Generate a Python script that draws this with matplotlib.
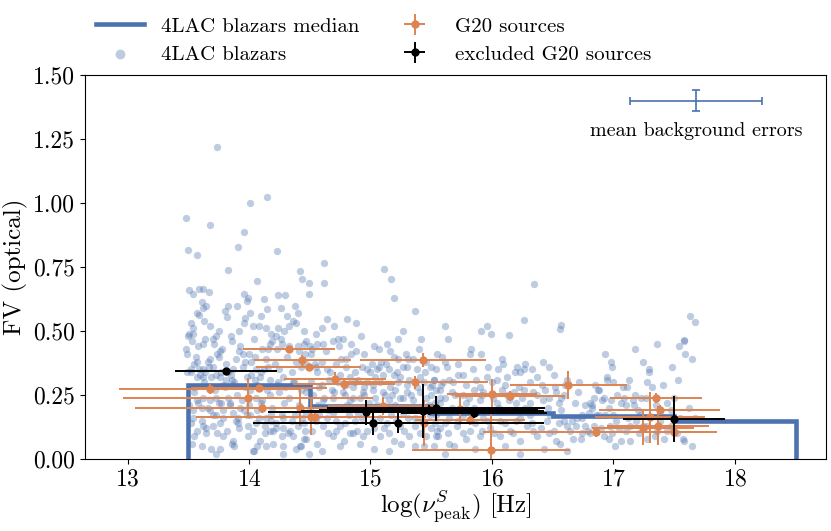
import matplotlib
matplotlib.use("Agg")
import matplotlib.pyplot as plt
import numpy as np

plt.rcParams['font.family'] = ['cmr10', 'DejaVu Serif']
plt.rcParams['mathtext.fontset'] = 'cm'
plt.rcParams['axes.formatter.use_mathtext'] = True

# ---------------- data ----------------
# 4LAC blazars: sparse / outlying points read individually
blazar_x = [
    13.74, 14.15, 14.01, 13.48, 13.68, 13.96, 13.91, 13.50, 13.57, 14.23, 13.83, 14.62, 14.42, 14.44,
    14.49, 14.62, 14.07, 15.11, 15.17, 15.19, 15.37, 13.51, 13.54, 13.59, 13.62, 13.67, 13.96, 13.99,
    13.98, 14.12, 14.24, 14.30, 14.49, 13.61, 13.65, 13.62, 13.83, 13.90, 14.15, 14.26, 14.38, 13.59,
    13.82, 14.31, 14.64, 14.81,
    16.35, 15.61, 15.64, 15.91, 15.96, 15.99, 16.14, 16.26, 16.57, 16.56, 17.63, 17.67, 17.58,
    13.63, 14.01, 14.36,
    13.54, 13.51, 13.54, 13.50, 13.70, 13.73, 13.85, 13.92, 13.96, 14.03, 14.08, 14.14, 14.18, 14.22,
    14.27, 14.29, 14.39, 14.45, 13.48, 13.49, 13.62, 13.76, 13.75, 13.68, 13.70, 13.57, 13.55, 13.59,
    13.52, 13.49, 13.62, 13.64, 13.73, 13.83, 13.87, 13.92, 13.95, 14.00, 14.02, 14.06, 14.12, 14.16,
    14.17, 14.23, 14.40, 14.45, 13.57, 13.62, 13.69, 13.76, 13.81, 13.86, 13.87, 13.79, 13.98, 14.05,
    14.09, 14.17, 14.24, 14.28, 14.36, 13.55, 13.57, 13.62, 13.68, 13.73, 13.77, 13.83, 13.84, 13.90,
    13.94, 14.01, 14.06, 14.10, 14.17, 14.25, 14.33, 14.43, 13.54, 13.61, 13.68, 13.73, 13.79, 13.87,
    13.91, 13.96, 14.01, 14.07, 14.14, 14.18, 14.22, 14.28, 14.38, 13.52, 13.62, 13.70, 13.76, 13.91,
    13.99, 14.06, 14.13, 14.17, 14.28, 14.34, 14.40, 13.55, 13.65, 13.79, 13.87, 13.99, 14.09, 14.20,
    14.27, 14.36, 14.45, 13.61, 13.76, 13.88, 14.07, 14.14, 14.28, 14.42, 14.47, 13.73, 14.03, 14.28,
    14.60, 14.69, 14.73, 14.77, 14.84, 14.61, 14.56, 14.50, 15.23, 14.84, 14.80, 14.76, 14.60, 14.51,
    14.54, 14.47, 15.19, 15.23, 15.31, 15.35, 15.13, 15.01, 14.97, 15.05, 15.09, 15.27, 15.46, 15.50,
    14.56, 14.67, 14.75, 14.83, 14.90, 14.97, 15.04, 15.10, 15.19, 15.24, 15.32, 15.41, 15.52, 14.58,
    14.68, 14.77, 14.86, 14.94, 15.02, 15.12, 15.20, 15.30, 15.49, 14.47, 14.61, 14.69, 14.83, 14.91,
    14.99, 15.15, 15.24, 15.35, 15.46, 15.53, 14.47, 14.58, 14.69, 14.82, 14.90, 15.08, 15.17, 15.27,
    15.37, 15.49, 14.45, 14.61, 14.75, 14.89, 14.97, 15.11, 15.24, 15.37, 15.50, 14.69, 14.78, 14.86,
    14.94, 15.08, 15.19, 15.32, 15.46, 15.56, 14.43, 14.49, 14.60, 15.15, 15.37, 15.52,
    15.59, 15.61, 15.83, 15.91, 15.82, 16.08, 16.05, 16.19, 16.23, 16.27, 16.42, 16.26, 15.72, 15.76,
    15.52, 15.60, 15.65, 15.87, 15.96, 16.04, 16.12, 16.37, 16.51, 16.62, 15.54, 15.67, 15.76, 15.85,
    15.93, 16.08, 16.18, 16.26, 16.34, 16.44, 16.53, 16.59, 15.57, 15.79, 15.90, 16.04, 16.14, 16.20,
    16.31, 16.42, 16.55, 15.54, 15.65, 15.76, 15.93, 16.07, 16.23, 16.31, 16.48, 16.59, 15.57, 15.71,
    15.82, 15.98, 16.15, 16.29, 16.40, 16.51, 16.62, 15.54, 15.65, 15.79, 15.90, 16.07, 16.23, 16.37,
    16.53, 16.56, 15.61, 16.23, 16.62,
    17.58, 17.54, 17.36, 17.18, 17.59, 17.65, 16.98, 16.99, 16.93, 17.24, 17.29, 17.29, 17.28, 17.48,
    17.53, 16.95, 16.95, 16.87, 16.88, 17.11, 17.08, 16.71, 16.84, 16.92, 16.91, 16.81, 16.82, 16.82,
    17.03, 17.09, 17.18, 17.23, 17.27, 16.96, 17.10, 17.17, 17.20, 17.44, 17.47, 17.62, 17.67, 17.00,
    16.93, 16.88, 16.80, 16.74, 16.66, 16.74, 16.69, 16.77, 16.84, 16.90, 16.97, 17.05, 17.14, 17.19,
    17.24, 17.28, 17.34, 17.44, 17.47, 16.74, 16.81, 16.64, 16.92, 16.96, 17.06, 17.01, 17.14, 17.28,
    17.42, 17.57, 17.58, 17.65, 16.73, 16.67,
]
blazar_y = [
    1.219, 1.023, 0.999, 0.943, 0.914, 0.888, 0.829, 0.818, 0.797, 0.814, 0.738, 0.766, 0.733, 0.702,
    0.688, 0.689, 0.695, 0.743, 0.703, 0.630, 0.578, 0.659, 0.643, 0.665, 0.664, 0.651, 0.645, 0.628,
    0.617, 0.624, 0.641, 0.641, 0.645, 0.612, 0.596, 0.590, 0.598, 0.598, 0.585, 0.591, 0.596, 0.561,
    0.553, 0.559, 0.546, 0.546,
    0.684, 0.518, 0.470, 0.499, 0.518, 0.488, 0.483, 0.542, 0.523, 0.508, 0.557, 0.536, 0.464,
    0.54, 0.57, 0.54,
    0.51, 0.49, 0.49, 0.48, 0.47, 0.48, 0.48, 0.50, 0.53, 0.52, 0.52, 0.51, 0.49, 0.48,
    0.45, 0.50, 0.53, 0.50, 0.43, 0.41, 0.45, 0.42, 0.40, 0.39, 0.36, 0.38, 0.37, 0.35,
    0.34, 0.34, 0.35, 0.34, 0.33, 0.34, 0.35, 0.42, 0.41, 0.41, 0.38, 0.35, 0.35, 0.43,
    0.45, 0.43, 0.44, 0.45, 0.32, 0.32, 0.32, 0.32, 0.31, 0.31, 0.29, 0.29, 0.32, 0.31,
    0.32, 0.31, 0.30, 0.32, 0.30, 0.26, 0.23, 0.24, 0.23, 0.24, 0.22, 0.24, 0.22, 0.25,
    0.23, 0.27, 0.24, 0.22, 0.25, 0.26, 0.24, 0.27, 0.19, 0.20, 0.19, 0.17, 0.19, 0.18,
    0.16, 0.19, 0.17, 0.19, 0.16, 0.17, 0.14, 0.16, 0.17, 0.14, 0.13, 0.13, 0.14, 0.14,
    0.13, 0.14, 0.13, 0.11, 0.12, 0.11, 0.13, 0.09, 0.10, 0.09, 0.07, 0.09, 0.07, 0.11,
    0.09, 0.09, 0.08, 0.05, 0.04, 0.05, 0.05, 0.05, 0.05, 0.05, 0.08, 0.02, 0.03, 0.02,
    0.51, 0.46, 0.47, 0.47, 0.45, 0.45, 0.45, 0.44, 0.47, 0.41, 0.39, 0.39, 0.38, 0.41,
    0.37, 0.37, 0.40, 0.39, 0.39, 0.39, 0.37, 0.37, 0.35, 0.35, 0.38, 0.36, 0.38, 0.36,
    0.34, 0.34, 0.33, 0.32, 0.31, 0.30, 0.32, 0.33, 0.33, 0.32, 0.31, 0.32, 0.31, 0.28,
    0.27, 0.26, 0.28, 0.26, 0.27, 0.25, 0.27, 0.26, 0.28, 0.26, 0.23, 0.24, 0.23, 0.24,
    0.22, 0.23, 0.24, 0.23, 0.24, 0.22, 0.18, 0.17, 0.18, 0.17, 0.18, 0.16, 0.17, 0.18,
    0.16, 0.17, 0.14, 0.13, 0.13, 0.11, 0.11, 0.12, 0.13, 0.13, 0.12, 0.09, 0.07, 0.10,
    0.09, 0.09, 0.07, 0.09, 0.09, 0.09, 0.05, 0.02, 0.03, 0.03, 0.05, 0.05,
    0.40, 0.38, 0.43, 0.41, 0.41, 0.39, 0.35, 0.34, 0.34, 0.37, 0.38, 0.35, 0.33, 0.33,
    0.31, 0.30, 0.31, 0.31, 0.32, 0.31, 0.32, 0.32, 0.33, 0.31, 0.27, 0.26, 0.25, 0.27,
    0.26, 0.27, 0.26, 0.27, 0.26, 0.27, 0.26, 0.25, 0.22, 0.22, 0.23, 0.22, 0.23, 0.22,
    0.22, 0.23, 0.22, 0.17, 0.16, 0.17, 0.16, 0.15, 0.16, 0.17, 0.17, 0.15, 0.12, 0.13,
    0.11, 0.12, 0.11, 0.13, 0.12, 0.11, 0.13, 0.09, 0.06, 0.08, 0.09, 0.09, 0.07, 0.09,
    0.07, 0.06, 0.02, 0.02, 0.03,
    0.46, 0.44, 0.45, 0.43, 0.41, 0.39, 0.38, 0.36, 0.41, 0.38, 0.35, 0.34, 0.30, 0.36,
    0.31, 0.32, 0.31, 0.27, 0.27, 0.28, 0.28, 0.26, 0.24, 0.24, 0.23, 0.22, 0.21, 0.20,
    0.25, 0.24, 0.25, 0.24, 0.24, 0.20, 0.21, 0.21, 0.19, 0.22, 0.19, 0.20, 0.16, 0.17,
    0.17, 0.17, 0.18, 0.17, 0.15, 0.16, 0.13, 0.13, 0.13, 0.12, 0.13, 0.12, 0.13, 0.15,
    0.13, 0.13, 0.09, 0.11, 0.13, 0.10, 0.10, 0.11, 0.09, 0.08, 0.07, 0.05, 0.07, 0.08,
    0.08, 0.08, 0.07, 0.05, 0.08, 0.08,
]

# 4LAC blazars: estimated positions inside the crowded core of the cloud
dense_x = [
    13.53, 13.58, 13.64, 13.71, 13.78, 13.86, 13.93, 14.04, 14.11, 14.19, 14.26, 14.33, 14.41, 14.47,
    13.56, 13.66, 13.74, 13.81, 13.89, 13.97, 14.05, 14.14, 14.21, 14.31, 14.39, 14.46,
    13.52, 13.60, 13.67, 13.77, 13.85, 13.95, 14.02, 14.10, 14.16, 14.25, 14.35, 14.43,
    13.55, 13.63, 13.72, 13.80, 13.88, 13.97, 14.07, 14.15, 14.23, 14.30, 14.37, 14.48,
    13.51, 13.58, 13.66, 13.75, 13.84, 13.93, 14.00, 14.11, 14.19, 14.29, 14.41,
    13.54, 13.61, 13.70, 13.79, 13.89, 13.98, 14.08, 14.18, 14.27, 14.35, 14.44,
    13.57, 13.65, 13.74, 13.82, 13.92, 14.03, 14.13, 14.22, 14.32, 14.46,
    13.53, 13.69, 13.86, 14.04, 14.20, 14.39,
    14.52, 14.63, 14.74, 14.88, 14.95, 15.07, 15.16, 15.29, 15.40, 15.55,
    14.55, 14.64, 14.72, 14.80, 14.87, 14.93, 15.00, 15.07, 15.15, 15.22, 15.30, 15.38, 15.45, 15.54,
    14.51, 14.60, 14.66, 14.73, 14.80, 14.87, 14.95, 15.02, 15.08, 15.16, 15.23, 15.30, 15.38, 15.44,
    15.51, 15.57,
    14.53, 14.62, 14.70, 14.79, 14.86, 14.95, 15.04, 15.10, 15.18, 15.27, 15.33, 15.41, 15.50, 15.57,
    14.50, 14.57, 14.65, 14.74, 14.81, 14.88, 14.96, 15.05, 15.13, 15.20, 15.29, 15.40, 15.48, 15.56,
    14.55, 14.64, 14.72, 14.79, 14.87, 14.93, 15.02, 15.14, 15.21, 15.31, 15.42, 15.53,
    14.52, 14.65, 14.72, 14.83, 15.03, 15.15, 15.28, 15.41, 15.55,
    14.56, 14.75, 14.91, 15.03, 15.25, 15.44,
    15.63, 15.72, 15.84, 15.97, 16.09, 16.21, 16.33, 16.47,
    15.58, 15.68, 15.79, 15.90, 16.00, 16.11, 16.22, 16.31, 16.41, 16.52, 16.60,
    15.61, 15.70, 15.81, 15.92, 16.01, 16.12, 16.25, 16.37, 16.47, 16.57,
    15.58, 15.67, 15.75, 15.85, 15.96, 16.06, 16.17, 16.27, 16.36, 16.46, 16.57,
    15.61, 15.72, 15.86, 15.97, 16.11, 16.20, 16.33, 16.45, 16.55,
    15.64, 15.76, 15.92, 16.02, 16.17, 16.34, 16.47,
    15.69, 15.86, 16.11, 16.43,
    16.72, 16.85, 17.00, 17.13, 17.32, 17.41,
    16.68, 16.77, 16.98, 17.06, 17.16, 17.35, 17.50,
    16.70, 16.86, 17.02, 17.12, 17.22, 17.38, 17.55,
    16.79, 16.99, 17.10, 17.21, 17.36, 17.52,
    13.57, 13.68, 13.80, 13.97, 14.10, 14.24, 14.40, 13.52, 13.75, 14.33,
    14.55, 14.70, 14.92, 15.03, 15.27, 15.42, 14.88, 15.14,
]
dense_y = [
    0.46, 0.44, 0.47, 0.45, 0.43, 0.46, 0.44, 0.47, 0.43, 0.46, 0.47, 0.44, 0.42, 0.46,
    0.40, 0.38, 0.41, 0.37, 0.39, 0.38, 0.40, 0.39, 0.37, 0.40, 0.38, 0.41,
    0.35, 0.33, 0.36, 0.34, 0.33, 0.36, 0.33, 0.34, 0.36, 0.35, 0.34, 0.36,
    0.28, 0.30, 0.27, 0.28, 0.30, 0.28, 0.29, 0.27, 0.29, 0.28, 0.30, 0.28,
    0.21, 0.22, 0.20, 0.22, 0.21, 0.20, 0.21, 0.23, 0.20, 0.22, 0.21,
    0.16, 0.15, 0.17, 0.16, 0.15, 0.17, 0.16, 0.15, 0.17, 0.15, 0.16,
    0.11, 0.12, 0.10, 0.11, 0.12, 0.11, 0.10, 0.12, 0.10, 0.11,
    0.06, 0.04, 0.06, 0.03, 0.06, 0.04,
    0.43, 0.42, 0.44, 0.42, 0.41, 0.43, 0.42, 0.41, 0.43, 0.41,
    0.36, 0.35, 0.37, 0.36, 0.34, 0.36, 0.34, 0.36, 0.35, 0.34, 0.36, 0.35, 0.34, 0.35,
    0.30, 0.29, 0.31, 0.30, 0.29, 0.30, 0.28, 0.29, 0.30, 0.28, 0.30, 0.29, 0.28, 0.30,
    0.29, 0.27,
    0.25, 0.24, 0.26, 0.25, 0.24, 0.25, 0.24, 0.26, 0.25, 0.24, 0.25, 0.26, 0.25, 0.24,
    0.20, 0.21, 0.19, 0.20, 0.21, 0.20, 0.19, 0.21, 0.20, 0.21, 0.19, 0.20, 0.21, 0.19,
    0.15, 0.16, 0.15, 0.14, 0.15, 0.16, 0.15, 0.14, 0.15, 0.16, 0.15, 0.14,
    0.11, 0.10, 0.11, 0.10, 0.12, 0.10, 0.11, 0.10, 0.11,
    0.06, 0.05, 0.06, 0.04, 0.06, 0.05,
    0.36, 0.37, 0.35, 0.36, 0.37, 0.36, 0.35, 0.36,
    0.29, 0.30, 0.29, 0.28, 0.30, 0.29, 0.28, 0.30, 0.29, 0.28, 0.29,
    0.24, 0.25, 0.24, 0.25, 0.24, 0.25, 0.24, 0.25, 0.24, 0.24,
    0.19, 0.20, 0.19, 0.20, 0.19, 0.20, 0.19, 0.20, 0.19, 0.20, 0.19,
    0.14, 0.15, 0.14, 0.15, 0.14, 0.15, 0.14, 0.15, 0.14,
    0.10, 0.10, 0.11, 0.10, 0.10, 0.11, 0.10,
    0.05, 0.04, 0.05, 0.04,
    0.30, 0.29, 0.30, 0.31, 0.28, 0.29,
    0.22, 0.21, 0.23, 0.22, 0.23, 0.21, 0.24,
    0.16, 0.17, 0.15, 0.16, 0.17, 0.15, 0.16,
    0.11, 0.10, 0.11, 0.10, 0.11, 0.10,
    0.57, 0.52, 0.58, 0.55, 0.56, 0.51, 0.57, 0.53, 0.50, 0.52,
    0.49, 0.52, 0.48, 0.44, 0.50, 0.47, 0.53, 0.45,
]

median_edges = [13.5, 14.5, 15.5, 16.5, 17.5, 18.5]
median_values = [0.289, 0.208, 0.178, 0.168, 0.148]

g20_x = [13.68, 13.99, 14.08, 14.11, 14.33, 14.42, 14.44, 14.49, 14.51, 14.54, 14.71, 14.78, 15.10,
         15.37, 15.43, 15.44, 15.74, 15.82, 16.00, 15.99, 16.15, 16.63, 16.86, 17.24, 17.30, 17.35,
         17.37, 17.38, 17.50]
g20_y = [0.272, 0.240, 0.279, 0.198, 0.430, 0.198, 0.385, 0.360, 0.163, 0.163, 0.313, 0.293, 0.207,
         0.300, 0.387, 0.142, 0.195, 0.152, 0.253, 0.035, 0.246, 0.288, 0.104, 0.121, 0.163, 0.237,
         0.130, 0.191, 0.107]
g20_xerr = [0.75, 1.03, 0.56, 1.05, 0.38, 0.50, 0.40, 0.43, 0.95, 0.30, 0.42, 0.42, 0.45,
            0.60, 0.52, 0.30, 0.50, 0.45, 0.37, 0.65, 0.45, 0.48, 0.93, 0.42, 0.45, 0.38,
            0.42, 0.50, 0.35]
g20_yerr = [0.02, 0.075, 0.01, 0.02, 0.01, 0.07, 0.02, 0.01, 0.07, 0.02, 0.025, 0.025, 0.035,
            0.025, 0.026, 0.09, 0.063, 0.02, 0.06, 0.16, 0.02, 0.055, 0.02, 0.065, 0.10, 0.02,
            0.077, 0.02, 0.02]

excl_x = [13.81, 14.96, 15.02, 15.23, 15.43, 15.48, 15.54, 15.85, 17.50]
excl_y = [0.344, 0.182, 0.142, 0.140, 0.188, 0.192, 0.198, 0.181, 0.156]
excl_xerr = [0.42, 0.80, 0.90, 1.20, 1.00, 0.90, 0.90, 0.60, 0.42]
excl_yerr = [0.01, 0.05, 0.05, 0.04, 0.105, 0.02, 0.05, 0.02, 0.09]

bkg_x, bkg_y = 17.68, 1.40
bkg_xerr, bkg_yerr = 0.54, 0.04

blue = '#4c72b0'
orange = '#dd8452'

# ---------------- plot ----------------
fig = plt.figure(figsize=(8.31, 5.31), dpi=100)
ax = fig.add_axes([85 / 831, 72 / 531, 741 / 831, 384 / 531])

all_x = blazar_x + dense_x
all_y = blazar_y + dense_y
ax.scatter(all_x, all_y, s=28, color=blue, alpha=0.36, linewidths=0,
           label='4LAC blazars', zorder=1)
ax.stairs(median_values, median_edges, baseline=0, color=blue, linewidth=3.3,
          label='4LAC blazars median', zorder=2)
ax.errorbar(g20_x, g20_y, xerr=g20_xerr, yerr=g20_yerr, fmt='o', color=orange,
            markersize=5, elinewidth=1.4, capsize=0, label='G20 sources', zorder=3)
ax.errorbar(excl_x, excl_y, xerr=excl_xerr, yerr=excl_yerr, fmt='o', color='black',
            markersize=5, elinewidth=1.4, capsize=0, label='excluded G20 sources', zorder=4)

ax.errorbar([bkg_x], [bkg_y], xerr=[bkg_xerr], yerr=[bkg_yerr], fmt='none', ecolor=blue,
            elinewidth=1.2, capsize=3, capthick=1.2)
ax.text(bkg_x, 1.28, 'mean background errors', ha='center', va='center', fontsize=14.5)

ax.set_xlim(12.65, 18.75)
ax.set_ylim(0, 1.5)
ax.set_xticks([13, 14, 15, 16, 17, 18])
ax.set_yticks([0, 0.25, 0.5, 0.75, 1.0, 1.25, 1.5])
ax.set_yticklabels(['0.00', '0.25', '0.50', '0.75', '1.00', '1.25', '1.50'])
ax.tick_params(labelsize=17)
ax.set_xlabel(r'$\log(\nu^{S}_{\rm peak})$ [Hz]', fontsize=18, labelpad=-1.5)
ax.set_ylabel('FV (optical)', fontsize=18)

handles, labels = ax.get_legend_handles_labels()
order = ['4LAC blazars median', '4LAC blazars', 'G20 sources', 'excluded G20 sources']
hmap = dict(zip(labels, handles))
leg = ax.legend([hmap[l] for l in order], order, loc='lower left', bbox_to_anchor=(0.0, 1.0),
                ncol=2, frameon=False, fontsize=15, borderaxespad=0.15, columnspacing=1.5,
                handlelength=2.3, labelspacing=0.45)
leg.legend_handles[1].set_sizes([50])

fig.savefig('out.png', dpi=100)
